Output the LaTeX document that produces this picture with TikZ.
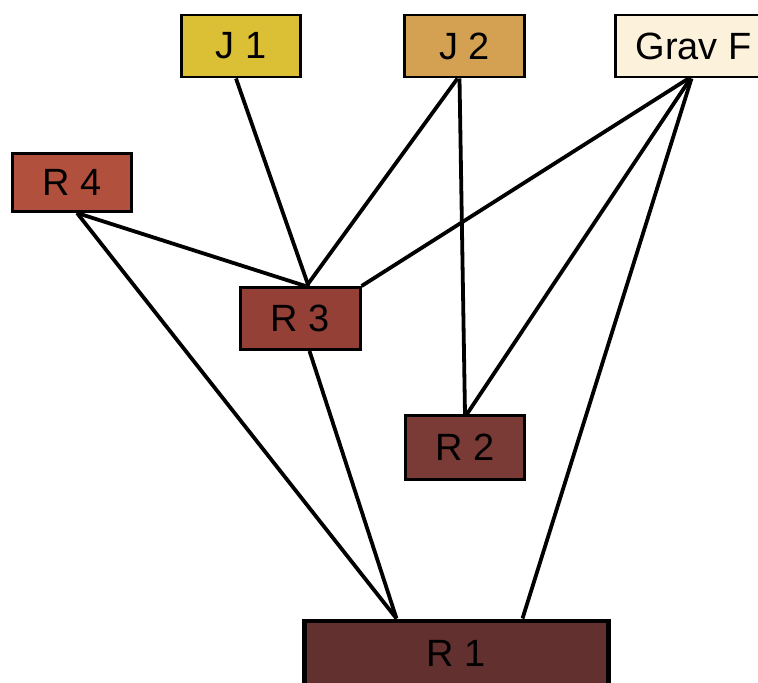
\documentclass[tikz,border=0pt]{standalone}
\usepackage{fontspec}
\setmainfont{Liberation Sans}
\usetikzlibrary{calc}
\definecolor{ouro}{RGB}{219,191,53}
\definecolor{ocre}{RGB}{212,160,82}
\definecolor{creme}{RGB}{252,242,220}
\definecolor{tijolo}{RGB}{178,80,62}
\definecolor{ferrugem}{RGB}{148,64,54}
\definecolor{vinho}{RGB}{122,58,54}
\definecolor{marrom}{RGB}{98,48,46}

\begin{document}
\begin{tikzpicture}[x=0.025cm, y=-0.025cm,
    caixa/.style={draw=black, line width=2.1pt, minimum width=2.98cm, minimum height=1.55cm,
      inner sep=0pt, font=\fontsize{27}{32}\selectfont},
    liga/.style={line width=2.7pt}]
    \useasboundingbox (0,0) rectangle (758,683);
    \clip (0,0) rectangle (758,683);

    \node[caixa, fill=ouro] (j1) at (241,46) {J 1};
    \node[caixa, fill=ocre] (j2) at (464.5,46) {J 2};
    \node[caixa, fill=creme, minimum width=3.9cm] (gravf) at (693.5,46) {Grav F};
    \node[caixa, fill=tijolo, minimum height=1.45cm] (r4) at (72,182.5) {R 4};
    \node[caixa, fill=ferrugem] (r3) at (300.5,318.5) {R 3};
    \node[caixa, fill=vinho, minimum height=1.6cm] (r2) at (465,447.5) {R 2};
    \node[caixa, fill=marrom, minimum width=7.6cm, minimum height=1.6cm, line width=3.5pt] (r1) at (456.5,653) {R 1};

    \draw[liga] ($(j1.south)+(-5,0)$) -- ($(r3.north)+(8,0)$);
    \draw[liga] ($(j2.south)+(-7,0)$) -- ($(r3.north)+(6,0)$);
    \draw[liga] ($(j2.south)+(-5,0)$) -- (r2.north);
    \draw[liga] ($(gravf.south)+(-5,0)$) -- (r3.north east);
    \draw[liga] ($(gravf.south)+(-3,0)$) -- ($(r2.north)+(2,0)$);
    \draw[liga] ($(gravf.south)+(-2,0)$) -- ($(r1.north)+(66,0)$);
    \draw[liga] ($(r4.south)+(5,0)$) -- ($(r3.north)+(5,0)$);
    \draw[liga] ($(r4.south)+(5,0)$) -- ($(r1.north)+(-60,0)$);
    \draw[liga] ($(r3.south)+(9,0)$) -- ($(r1.north)+(-60,0)$);
\end{tikzpicture}
\end{document}
